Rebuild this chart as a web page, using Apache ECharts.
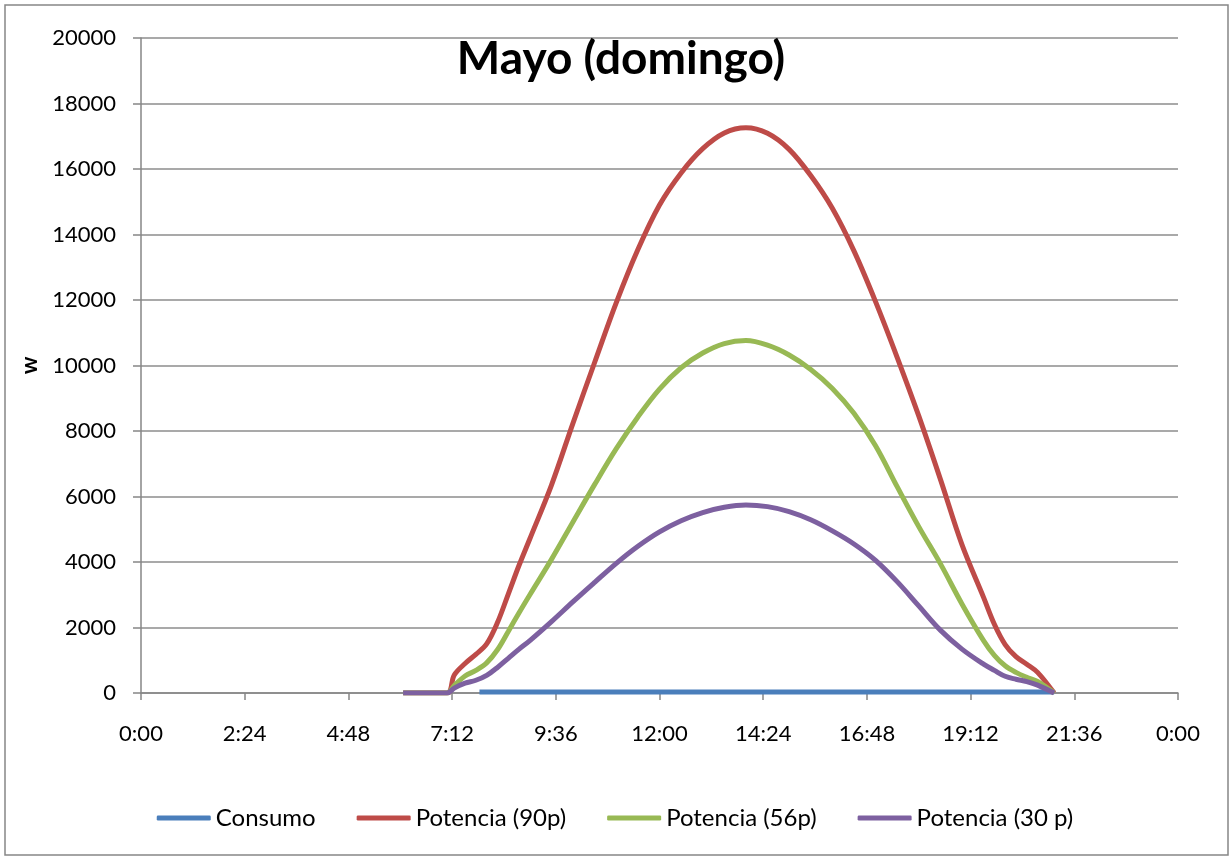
<!DOCTYPE html>
<html>
<head>
<meta charset="utf-8">
<script src="https://cdn.jsdelivr.net/npm/echarts@6/dist/echarts.min.js"></script>
<style>
html,body{margin:0;padding:0;background:#fff;}
#c{width:1230px;height:857px;}
</style>
</head>
<body>
<div id="c"></div>
<script>
const times = ['6:04','7:05','7:15','7:30','7:45','8:00','8:15','8:30','8:45','9:00','9:30','10:00','10:30','11:00','11:30','12:00','12:30','13:00','13:30','14:00','14:30','15:00','15:30','16:00','16:30','17:00','17:30','18:00','18:30','19:00','19:30','19:45','20:00','20:15','20:30','20:45','21:08'];
const potencia90 = [0,0,550,900,1180,1500,2150,3020,3900,4710,6350,8250,10100,11920,13540,14900,15880,16620,17100,17260,17090,16600,15800,14800,13500,11950,10250,8460,6530,4530,2920,2100,1480,1110,880,630,0];
const potencia56 = [0,0,230,520,690,920,1320,1880,2450,3000,4080,5230,6370,7460,8430,9280,9930,10380,10670,10760,10620,10320,9880,9300,8540,7550,6300,5080,3950,2720,1600,1150,830,630,480,350,0];
const potencia30 = [0,0,150,300,390,540,780,1060,1340,1600,2180,2790,3380,3960,4480,4920,5260,5510,5670,5740,5690,5540,5290,4950,4550,4050,3400,2660,1920,1340,880,690,510,420,350,240,0];
const consumoTimes = ['7:50','21:08'];
const consumo = [30,30];
const seriesNames = ['Consumo','Potencia (90p)','Potencia (56p)','Potencia (30 p)'];
const yTicks = {min:0, max:20000, interval:2000};
const xTicks = {min:0, max:1440, interval:144};

function toMin(s){const p=s.split(':');return (+p[0])*60+(+p[1]);}
function pairs(ts, vs){return ts.map((t,i)=>[toMin(t), vs[i]]);}
function fmt(v){v=Math.round(v)%1440;const h=Math.floor(v/60),m=v%60;return h+':'+(m<10?'0':'')+m;}

const colors = ['#4a7ebb','#be4b48','#98b954','#7d60a0'];
const font = 'Lato, "Open Sans", sans-serif';
const chart = echarts.init(document.getElementById('c'));
const mk = (name, data, color) => ({
  name, type:'line', data, smooth:0.35, showSymbol:false, symbol:'none',
  lineStyle:{color, width:5}, itemStyle:{color}, z:2
});
chart.setOption({
  animation:false,
  color: colors,
  title:{text:'Mayo (domingo)', left:616, top:31, textAlign:'center',
    textStyle:{fontFamily:font, fontSize:46, fontWeight:'bold', color:'#000'}},
  graphic:[{type:'rect', shape:{x:5,y:5,width:1223,height:850},
    style:{fill:'none', stroke:'#868686', lineWidth:1.5}, silent:true}],
  grid:{left:141, right:52, top:38, bottom:164},
  legend:{bottom:22, left:'center', icon:'roundRect', itemWidth:54, itemHeight:5, itemGap:41,
    textStyle:{fontFamily:font, fontSize:24, color:'#000'}, data:seriesNames},
  xAxis:{type:'value', min:xTicks.min, max:xTicks.max, interval:xTicks.interval,
    axisLine:{lineStyle:{color:'#868686', width:1.5}},
    axisTick:{show:true, length:7, lineStyle:{color:'#868686', width:1.5}},
    splitLine:{show:false},
    axisLabel:{formatter:fmt, margin:30, fontFamily:font, fontSize:22, color:'#000'}},
  yAxis:{type:'value', min:yTicks.min, max:yTicks.max, interval:yTicks.interval,
    name:'w', nameLocation:'middle', nameRotate:90, nameGap:100,
    nameTextStyle:{fontFamily:font, fontSize:22, fontWeight:'bold', color:'#000'},
    axisLine:{show:true, lineStyle:{color:'#868686', width:1.5}},
    axisTick:{show:true, length:8, lineStyle:{color:'#868686', width:1.5}},
    splitLine:{lineStyle:{color:'#8c8c8c', width:1.5}},
    axisLabel:{margin:25, fontFamily:font, fontSize:22, color:'#000', formatter:v=>String(v)}},
  series:[
    mk(seriesNames[0], pairs(consumoTimes, consumo), colors[0]),
    mk(seriesNames[1], pairs(times, potencia90), colors[1]),
    mk(seriesNames[2], pairs(times, potencia56), colors[2]),
    mk(seriesNames[3], pairs(times, potencia30), colors[3])
  ]
});
</script>
</body>
</html>
